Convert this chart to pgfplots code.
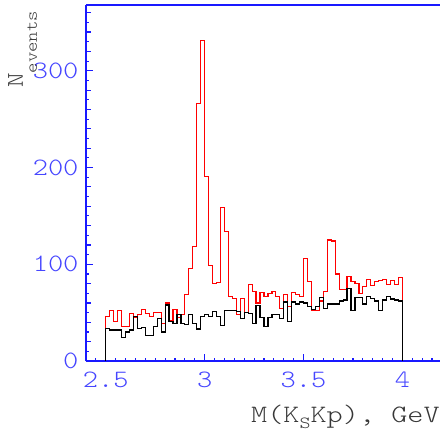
\documentclass[border=0pt]{standalone}
\usepackage{fontspec}
\usepackage{pgfplots}
\usepackage{pgfplotstable}
\pgfplotsset{compat=1.18}
\newfontfamily\ctt{lmmonolt10-regular.otf}[FakeStretch=1.16]
\newfontfamily\cttw{lmmonolt10-regular.otf}[FakeStretch=1.23]
\definecolor{axblue}{RGB}{25,25,255}
\definecolor{lblblue}{RGB}{70,70,255}
\definecolor{lblgray}{RGB}{55,55,55}
\pgfplotstableread{
x red black
2.50 0 0
2.50 46 34
2.52 52 32
2.54 41 32
2.56 52 32
2.58 36 24
2.60 36 30
2.62 49 32
2.64 45 46
2.66 48 34
2.68 53 35
2.70 49 26
2.72 46 26
2.74 50 36
2.76 50 44
2.78 39 30
2.80 60 58
2.82 42 41
2.84 53 39
2.86 45 48
2.88 48 39
2.90 69 38
2.92 96 48
2.94 118 39
2.96 266 33
2.98 331 46
3.00 191 48
3.02 99 46
3.04 80 51
3.06 81 46
3.08 159 37
3.10 134 52
3.12 67 52
3.14 65 52
3.16 48 51
3.18 65 44
3.20 50 50
3.22 79 49
3.24 72 39
3.26 60 57
3.28 71 45
3.30 67 36
3.32 70 45
3.34 72 48
3.36 67 48
3.38 54 44
3.40 69 61
3.42 56 41
3.44 71 61
3.46 69 59
3.48 67 61
3.50 106 60
3.52 82 56
3.54 52 53
3.56 52 56
3.58 62 66
3.60 72 54
3.62 125 59
3.64 124 59
3.66 90 59
3.68 74 62
3.70 74 63
3.72 87 75
3.74 82 52
3.76 80 66
3.78 70 66
3.80 77 59
3.82 84 67
3.84 78 65
3.86 82 62
3.88 83 52
3.90 84 63
3.92 79 67
3.94 83 64
3.96 79 63
3.98 86 62
4.00 86 62
4.00 0 0
}\hist
\begin{document}
\begin{tikzpicture}
\begin{axis}[
  scale only axis, width=354pt, height=356pt,
  xmin=2.4, xmax=4.19, ymin=0, ymax=368,
  axis x line*=box, axis y line*=left,
  axis line style={axblue, line width=1.6pt, -},
  xtick={2.5,3,3.5,4}, xticklabels={2.5,3,3.5,4},
  ytick={0,100,200,300},
  minor xtick={2.4,2.45,...,4.19},
  minor ytick={0,10,...,365},
  extra y ticks={20,40,60,80,120,140,160,180,220,240,260,280,320,340,360},
  extra y tick labels={},
  extra y tick style={major tick length=5pt},
  xtick pos=left, ytick pos=left,
  tick style={axblue, line width=1.2pt},
  major tick length=7pt, minor tick length=3pt,
  tick label style={font=\fontsize{25}{25}\ctt, text=lblblue},
  /pgf/number format/assume math mode=true,
  yticklabel style={xshift=-4pt},
  xticklabel style={yshift=-7pt},
  xlabel={M(K\raisebox{-6pt}{\fontsize{17}{17}\cttw S}Kp), GeV},
  xlabel style={at={(rel axis cs:0.466,-0.174)}, anchor=base west,
    font=\fontsize{25}{25}\cttw, text=lblgray, inner sep=0pt},
  ylabel={N\raisebox{-14pt}{\fontsize{17}{17}\ctt events}},
  ylabel style={at={(rel axis cs:-0.178,0.767)}, anchor=base west,
    font=\fontsize{24}{24}\ctt, text=lblgray, inner sep=0pt},
]
\addplot[const plot, red, line width=1.2pt] table[x=x, y=red] {\hist};
\addplot[const plot, black, line width=1.2pt] table[x=x, y=black] {\hist};
\end{axis}
\pgfresetboundingbox
\path ([shift={(-86pt,-71pt)}]current axis.south west) rectangle ([shift={(0pt,5pt)}]current axis.north east);
\end{tikzpicture}
\end{document}
